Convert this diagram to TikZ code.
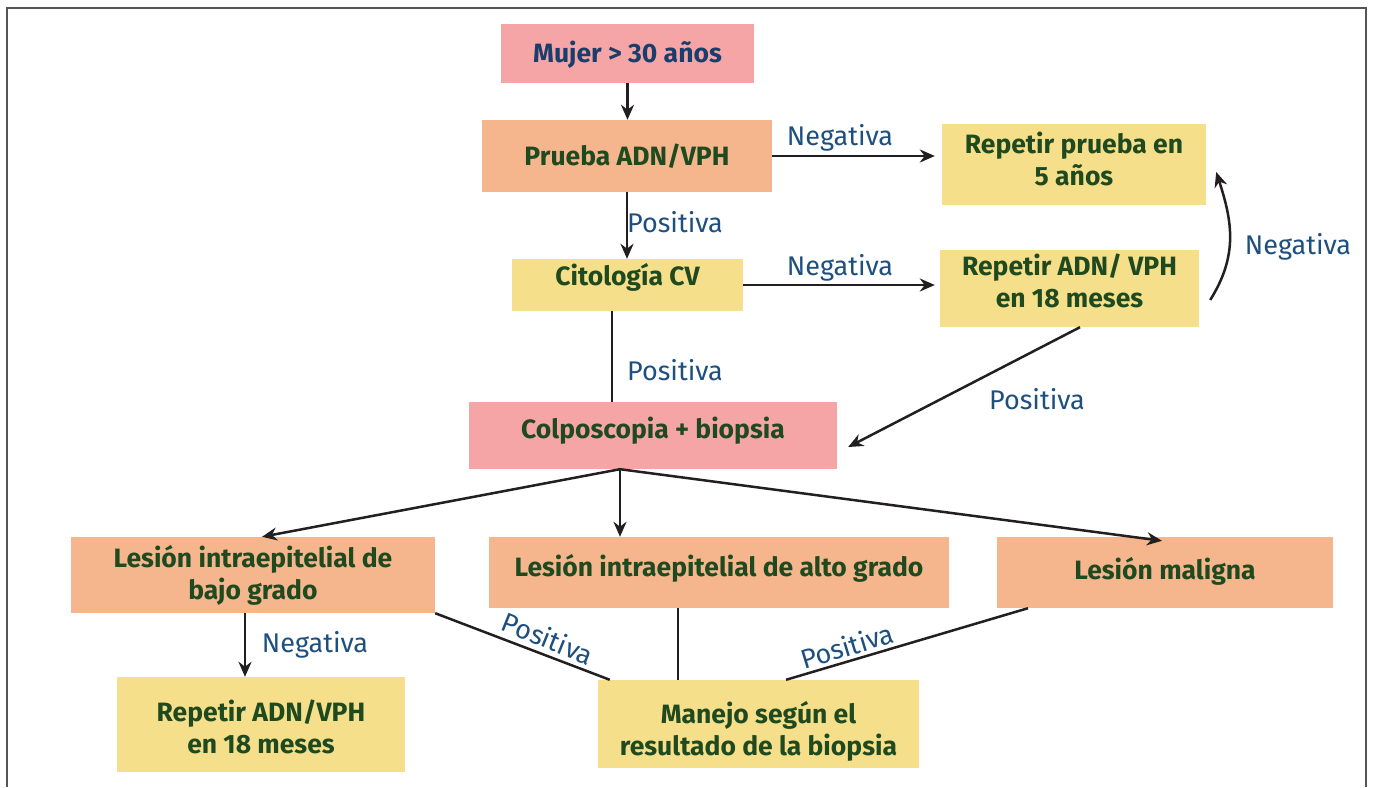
\documentclass[tikz,border=0pt]{standalone}
\usepackage{fontspec}
\setmainfont{Fira Sans}
\usetikzlibrary{arrows.meta}
\definecolor{cpink}{HTML}{F6A5A6}
\definecolor{corange}{HTML}{F5B68E}
\definecolor{cyellow}{HTML}{F6DF8A}
\definecolor{cgreen}{HTML}{1F4A1F}
\definecolor{cblue}{HTML}{1D4F7F}
\definecolor{ctitle}{HTML}{1A3E6B}
\definecolor{cframe}{HTML}{555555}
\definecolor{cline}{HTML}{231F20}
\tikzset{
  box/.style={inner sep=0pt},
  btext/.style={inner sep=0pt, align=center, text=cgreen, font=\fontsize{26.5}{32}\selectfont\bfseries},
  lbl/.style={inner sep=0pt, text=cblue, font=\fontsize{27}{30}\selectfont},
  conn/.style={draw=cline, line width=2.5pt},
  arr/.style={conn, -{Stealth[length=15pt,width=13pt]}},
}
\begin{document}
\begin{tikzpicture}[x=1pt,y=-1pt]
\useasboundingbox (0,0) rectangle (1373,787);
\draw[cframe, line width=2pt] (7,787) -- (7,8) -- (1366,8) -- (1366,787);

\node[box, fill=cpink, minimum width=253pt, minimum height=59pt,
  label={[btext, text=ctitle, name=mujert, yshift=-1.5pt]center:Mujer > 30 años}] (mujer) at (627.5,53.5) {};
\node[box, fill=corange, minimum width=290pt, minimum height=72pt,
  label={[btext, name=pruebat]center:Prueba ADN/VPH}] (prueba) at (627,156) {};
\node[box, fill=cyellow, minimum width=264pt, minimum height=81pt,
  label={[btext, name=r5t, yshift=6pt]center:Repetir prueba en\\5 años}] (r5) at (1074,164.5) {};
\node[box, fill=cyellow, minimum width=231pt, minimum height=52pt,
  label={[btext, name=citot, yshift=8pt]center:Citología CV}] (cito) at (627.5,285) {};
\node[box, fill=cyellow, minimum width=259pt, minimum height=77pt,
  label={[btext, name=r18t, yshift=7.5pt]center:Repetir ADN/ VPH\\en 18 meses}] (r18) at (1069.5,288.5) {};
\node[box, fill=cpink, minimum width=368pt, minimum height=67pt,
  label={[btext, name=colpot, yshift=5pt]center:Colposcopia + biopsia}] (colpo) at (653,435.5) {};
\node[box, fill=corange, minimum width=364pt, minimum height=76pt,
  label={[btext, name=bajot]center:Lesión intraepitelial de\\bajo grado}] (bajo) at (253,575) {};
\node[box, fill=corange, minimum width=460pt, minimum height=71pt,
  label={[btext, name=altot, yshift=4pt]center:Lesión intraepitelial de alto grado}] (alto) at (719,572.5) {};
\node[box, fill=corange, minimum width=336pt, minimum height=71pt,
  label={[btext, name=malt, yshift=1pt]center:Lesión maligna}] (mal) at (1165,572.5) {};
\node[box, fill=cyellow, minimum width=288pt, minimum height=95pt,
  label={[btext, name=rbt, yshift=-2.5pt]center:Repetir ADN/VPH\\en 18 meses}] (rb) at (261,724.5) {};
\node[box, fill=cyellow, minimum width=321pt, minimum height=88pt,
  label={[btext, name=manejot, yshift=-7pt]center:Manejo según el\\resultado de la biopsia}] (manejo) at (758.5,724) {};

\draw[arr] (mujer.south) -- (mujer.south |- prueba.north);
\draw[arr] (prueba.south) -- (prueba.south |- cito.north);
\draw[arr] (prueba.east) -- ([xshift=-7pt]r5.west |- prueba.east);
\draw[arr] (cito.east) -- ([xshift=-5pt]r18.west |- cito.east);
\draw[conn] ([xshift=-15.5pt]cito.south) -- ([xshift=-41pt]colpo.north);
\draw[arr] ([xshift=10.5pt]r18.south) -- ([xshift=11pt,yshift=-11.5pt]colpo.east);
\draw[arr] ([xshift=11pt,yshift=-11.5pt]r18.east) to[out=58,in=-72,looseness=1.05] ([xshift=10pt,yshift=-7.5pt]r5.east);
\draw[arr] ([xshift=-33pt]colpo.south) -- ([xshift=9pt]bajo.north);
\draw[arr] ([xshift=-33pt]colpo.south) -- ([xshift=-99pt]alto.north);
\draw[arr] ([xshift=-33pt]colpo.south) -- ([xshift=-3pt,yshift=-4pt]mal.north);
\draw[arr] ([xshift=-8pt]bajo.south) -- ([xshift=-16pt]rb.north);
\draw[conn] (bajo.south east) -- ([xshift=12pt]manejo.north west);
\draw[conn] ([xshift=-41pt]alto.south) -- ([xshift=-80.5pt]manejo.north);
\draw[conn] ([xshift=-137pt]mal.south) -- ([xshift=27.5pt]manejo.north);

\node[lbl] (l1) at (840,138) {Negativa};
\node[lbl] (l2) at (675,222) {Positiva};
\node[lbl] (l3) at (840,268) {Negativa};
\node[lbl] (l4) at (675,370) {Positiva};
\node[lbl] (l5) at (1037,399) {Positiva};
\node[lbl] (l6) at (1298,247) {Negativa};
\node[lbl] (l7) at (315,645) {Negativa};
\node[lbl, rotate=-22] (l8) at (548,638) {Positiva};
\node[lbl, rotate=17] (l9) at (847,646) {Positiva};
\end{tikzpicture}
\end{document}
